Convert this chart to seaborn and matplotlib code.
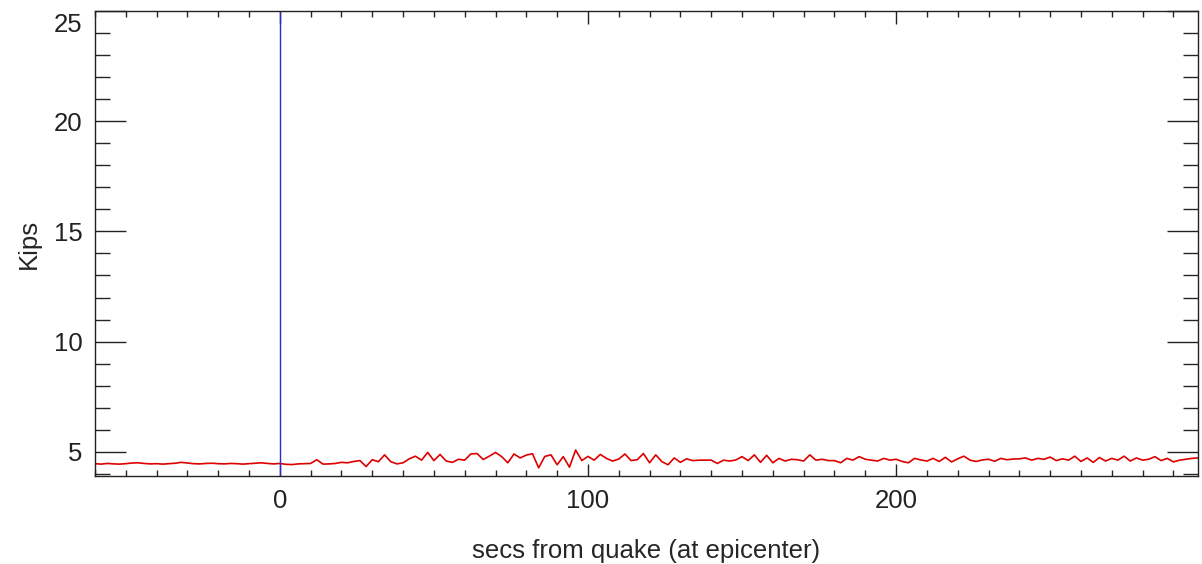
import numpy as np
import pandas as pd
import matplotlib
matplotlib.use("Agg")
import matplotlib.pyplot as plt
from matplotlib.ticker import MultipleLocator
from matplotlib.transforms import ScaledTranslation
import seaborn as sns

# Kips readings sampled every 2 s, from -60 s to 298 s
secs = np.arange(-60, 299, 2)
kips_pre = [4.46, 4.44, 4.47, 4.45, 4.44, 4.46, 4.49, 4.50, 4.47, 4.45,
            4.46, 4.44, 4.46, 4.48, 4.52, 4.49, 4.46, 4.45, 4.47, 4.48,
            4.46, 4.45, 4.47, 4.46, 4.44, 4.46, 4.48, 4.50, 4.47, 4.45]
kips_0_60 = [4.47, 4.43, 4.42, 4.45, 4.46, 4.47, 4.64, 4.44, 4.45, 4.47,
             4.52, 4.50, 4.56, 4.60, 4.33, 4.64, 4.55, 4.86, 4.55, 4.45,
             4.50, 4.68, 4.80, 4.62, 4.97, 4.60, 4.88, 4.58, 4.52, 4.66]
kips_60_120 = [4.62, 4.90, 4.92, 4.65, 4.80, 4.97, 4.78, 4.50, 4.90, 4.72,
               4.85, 4.91, 4.27, 4.79, 4.86, 4.41, 4.78, 4.30, 5.08, 4.60,
               4.79, 4.62, 4.88, 4.70, 4.58, 4.67, 4.90, 4.60, 4.64, 4.92]
kips_120_180 = [4.50, 4.86, 4.55, 4.41, 4.72, 4.52, 4.68, 4.60, 4.62, 4.62,
                4.62, 4.47, 4.62, 4.58, 4.63, 4.78, 4.60, 4.86, 4.52, 4.84,
                4.50, 4.70, 4.58, 4.66, 4.64, 4.58, 4.86, 4.62, 4.66, 4.60]
kips_180_240 = [4.60, 4.50, 4.70, 4.62, 4.78, 4.66, 4.62, 4.58, 4.70, 4.62,
                4.66, 4.56, 4.50, 4.70, 4.63, 4.58, 4.70, 4.56, 4.75, 4.54,
                4.68, 4.80, 4.62, 4.56, 4.63, 4.66, 4.57, 4.70, 4.64, 4.67]
kips_240_300 = [4.68, 4.72, 4.62, 4.70, 4.66, 4.76, 4.60, 4.68, 4.62, 4.80,
                4.56, 4.72, 4.52, 4.74, 4.58, 4.70, 4.62, 4.80, 4.58, 4.72,
                4.62, 4.66, 4.78, 4.60, 4.70, 4.54, 4.62, 4.66, 4.70, 4.72]
quake_sec = 0

kips = kips_pre + kips_0_60 + kips_60_120 + kips_120_180 + kips_180_240 + kips_240_300
df = pd.DataFrame({"secs": secs, "kips": kips})

sns.set_style("ticks")
plt.rcParams["font.family"] = ["Liberation Sans", "DejaVu Sans"]
plt.rcParams["text.color"] = "#222222"

fig = plt.figure(figsize=(12.02, 5.64), dpi=100)
ax = fig.add_axes([0.079, 0.156, 0.9177, 0.8245])

sns.lineplot(data=df, x="secs", y="kips", ax=ax, color="#dd0000", linewidth=1.2)
ax.axvline(quake_sec, color="#2a2ad0", linewidth=1.0)

ax.set_xlim(-60, 298)
ax.set_ylim(3.9, 25)
ax.xaxis.set_major_locator(MultipleLocator(100))
ax.xaxis.set_minor_locator(MultipleLocator(10))
ax.yaxis.set_major_locator(MultipleLocator(5))
ax.yaxis.set_minor_locator(MultipleLocator(1))

ax.tick_params(axis="x", which="major", direction="in", length=9, width=1,
               top=True, bottom=True, labelsize=18.5, pad=9, colors="#222222")
ax.tick_params(axis="x", which="minor", direction="in", length=4.5, width=1,
               top=True, bottom=True)
ax.tick_params(axis="y", which="major", direction="in", length=22, width=1,
               left=True, right=True, labelsize=18.5, pad=9, colors="#222222")
ax.tick_params(axis="y", which="minor", direction="in", length=11, width=1,
               left=True, right=True)
for s in ax.spines.values():
    s.set_visible(True)
    s.set_color("#222222")
    s.set_linewidth(1)

# the top label sits a little below its tick, as in the original
fig.canvas.draw()
for lab in ax.get_yticklabels():
    if lab.get_text() == "25":
        lab.set_transform(lab.get_transform() + ScaledTranslation(0, -12 / 100, fig.dpi_scale_trans))

ax.set_xlabel("secs from quake (at epicenter)", fontsize=18.5, labelpad=19)
ax.set_ylabel("Kips", fontsize=18.5, labelpad=9)

fig.savefig("out.png", dpi=100)
